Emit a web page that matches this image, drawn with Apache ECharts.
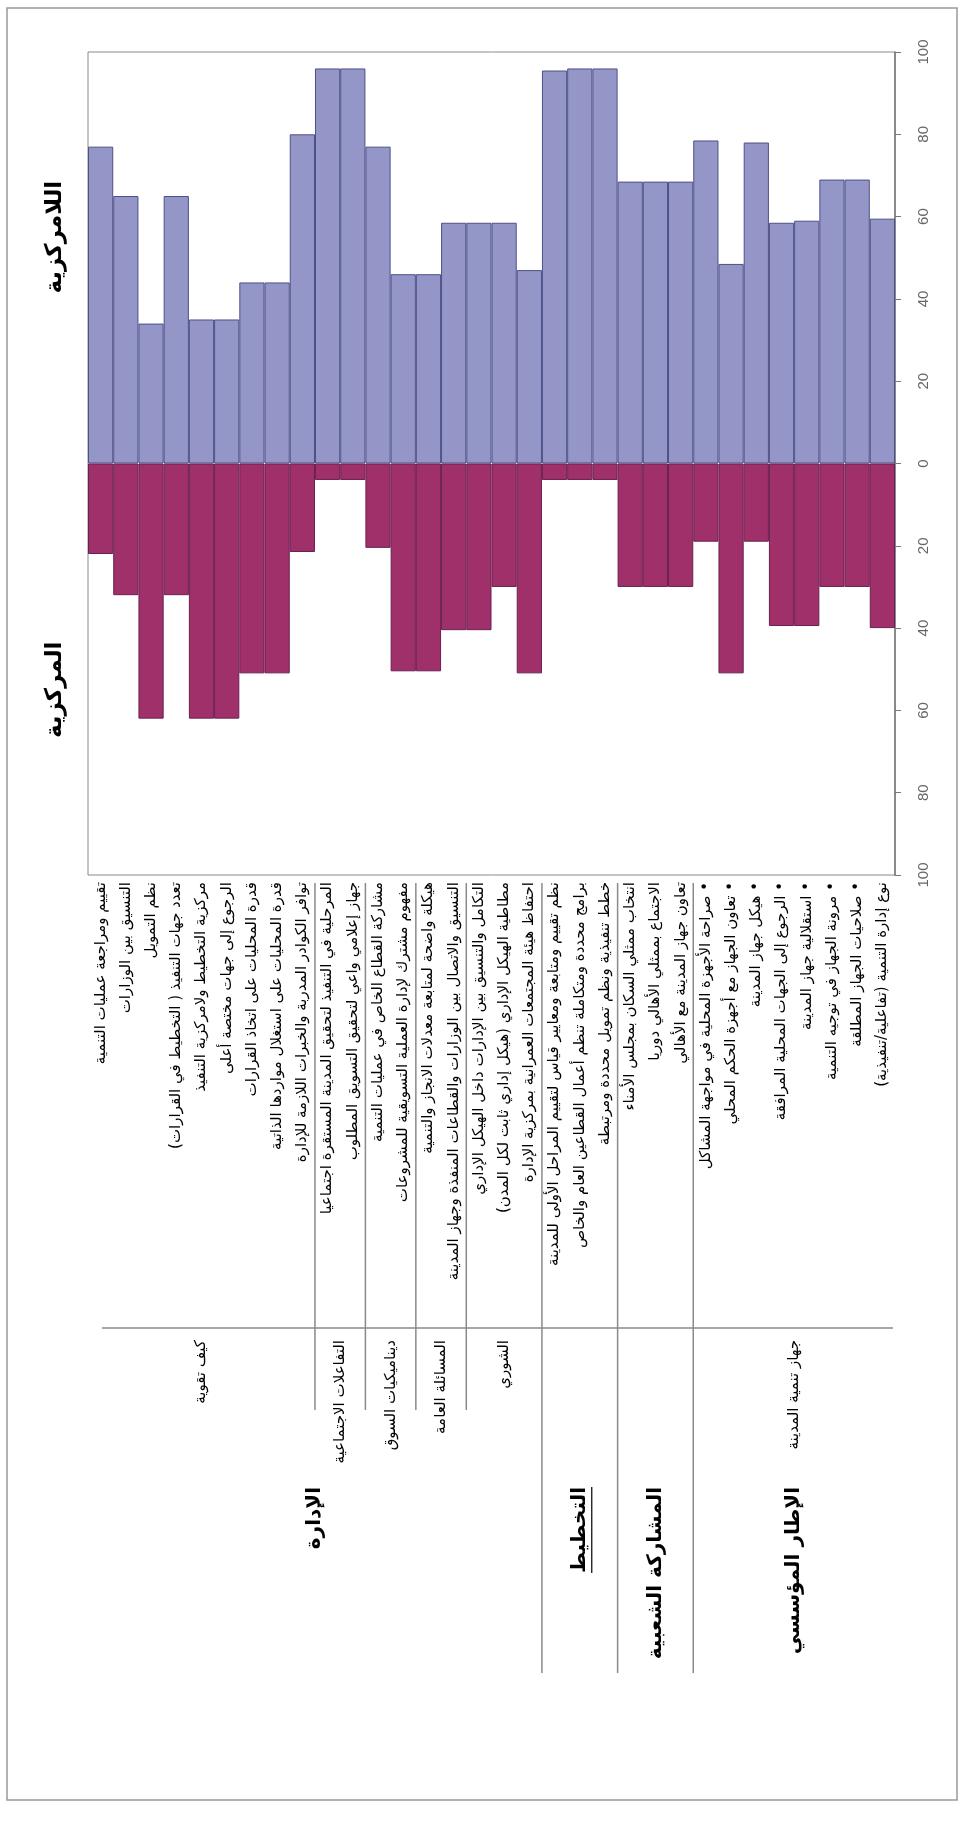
<!DOCTYPE html>
<html>
<head>
<meta charset="utf-8">
<script src="https://cdn.jsdelivr.net/npm/echarts@6/dist/echarts.min.js"></script>
<style>
  html, body { margin: 0; padding: 0; background: #fff; }
  #chart { width: 963px; height: 1834px; }
</style>
</head>
<body>
<div id="chart" dir="rtl"></div>
<script>
// البيانات
const categories = [
  'تقييم ومراجعة عمليات التنمية',
  'التنسيق بين الوزارات',
  'نظم التمويل',
  'تعدد جهات التنفيذ ( التخطيط في القرارات)',
  'مركزية التخطيط ولامركزية التنفيذ',
  'الرجوع إلى جهات مختصة أعلى',
  'قدرة المحليات على اتخاذ القرارات',
  'قدرة المحليات على استغلال مواردها الذاتية',
  'توافر الكوادر المدربة والخبرات اللازمة للإدارة',
  'المرحلية في التنفيذ لتحقيق المدينة المستقرة اجتماعيا',
  'جهاز إعلامي واعي لتحقيق التسويق المطلوب',
  'مشاركة القطاع الخاص في عمليات التنمية',
  'مفهوم مشترك لإدارة العملية التسويقية للمشروعات',
  'هيكلة واضحة لمتابعة معدلات الانجاز والتنمية',
  'التنسيق والاتصال بين الوزارات والقطاعات المنفذة وجهاز المدينة',
  'التكامل والتنسيق بين الإدارات داخل الهيكل الإداري',
  'مطاطية الهيكل الإداري (هيكل إداري ثابت لكل المدن)',
  'احتفاظ هيئة المجتمعات العمرانية بمركزية الإدارة',
  'نظم تقييم ومتابعة ومعايير قياس لتقييم المراحل الأولى للمدينة',
  'برامج محددة ومتكاملة تنظم أعمال القطاعين العام والخاص',
  'خطط تنفيذية ونظم تمويل محددة ومرتبطة',
  'انتخاب ممثلي السكان بمجلس الأمناء',
  'الاجتماع بممثلي الأهالي دوريا',
  'تعاون جهاز المدينة مع الأهالي',
  '• صراحة الأجهزة المحلية في مواجهة المشاكل',
  '• تعاون الجهاز مع أجهزة الحكم المحلي',
  '• هيكل جهاز المدينة',
  '• الرجوع إلى الجهات المحلية المرافقة',
  '• استقلالية جهاز المدينة',
  '• مرونة الجهاز في توجيه التنمية',
  '• صلاحيات الجهاز المطلقة',
  'نوع إدارة التنمية (تفاعلية/تنفيذية)'
];
// اللامركزية (فوق الصفر)
const decentral = [77, 65, 34, 65, 35, 35, 44, 44, 80, 96, 96, 77, 46, 46, 58.5, 58.5,
  58.5, 47, 95.5, 96, 96, 68.5, 68.5, 68.5, 78.5, 48.5, 78, 58.5, 59, 69, 69, 59.5];
// المركزية (تحت الصفر)
const central = [22, 32, 62, 32, 62, 62, 51, 51, 21.5, 4, 4, 20.5, 50.5, 50.5, 40.5, 40.5,
  30, 51, 4, 4, 4, 30, 30, 30, 19, 51, 19, 39.5, 39.5, 30, 30, 40];
const valueTicks = [-100, -80, -60, -40, -20, 0, 20, 40, 60, 80, 100];

const seriesNames = ['اللامركزية', 'المركزية'];
const subgroupNames = ['كيف تقوية', 'التفاعلات الاجتماعية', 'ديناميكيات السوق', 'المسائلة العامة', 'الشوري', '', '', 'جهاز تنمية المدينة'];
const subgroupStarts = [0, 9, 11, 13, 15, 18, 21, 24];
const groupNames = ['الإدارة', 'التخطيط', 'المشاركة الشعبية', 'الإطار المؤسسي'];
const groupStarts = [0, 18, 21, 24];

const FONT = '"DejaVu Sans", sans-serif';
const chart = echarts.init(document.getElementById('chart'));

const option = {
  animation: false,
  grid: {
    left: 88, right: 68, top: 52, bottom: 959,
    show: true, borderColor: '#8a8a8a', borderWidth: 1,
    outerBoundsMode: 'none'
  },
  xAxis: {
    type: 'category',
    data: categories,
    axisLine: { show: false },
    axisTick: { show: false },
    axisLabel: { interval: 0, rotate: 90, fontSize: 15, color: '#000', margin: 7, fontFamily: FONT }
  },
  yAxis: {
    type: 'value',
    position: 'right',
    min: valueTicks[0],
    max: valueTicks[valueTicks.length - 1],
    interval: 20,
    splitLine: { show: false },
    axisLine: { show: true, lineStyle: { color: '#777', width: 1.5 } },
    axisTick: { show: true, length: 6, lineStyle: { color: '#777' } },
    axisLabel: { rotate: 90, fontSize: 15, color: '#666', margin: 21, fontFamily: 'Liberation Sans', formatter: v => Math.abs(v) }
  },
  series: [
    {
      name: seriesNames[0], type: 'bar', data: decentral,
      barWidth: '100%', barGap: '-100%',
      itemStyle: { color: '#9496c8', borderColor: '#4d5088', borderWidth: 1 }
    },
    {
      name: seriesNames[1], type: 'bar', data: central.map(v => -v),
      barWidth: '100%', barGap: '-100%',
      itemStyle: { color: '#a0306a', borderColor: '#6a1f52', borderWidth: 1 }
    }
  ]
};
chart.setOption(option);

// خطوط التقسيم والعناوين (محسوبة من محاور الرسم)
const cx = i => chart.convertToPixel({ xAxisIndex: 0 }, i);
const vy = v => chart.convertToPixel({ yAxisIndex: 0 }, v);
const bw = cx(1) - cx(0);
const edge = k => cx(0) - bw / 2 + k * bw;
const LINE = { stroke: '#8a8a8a', lineWidth: 1.5 };

const measure = (text, font) => {
  const ctx = document.createElement('canvas').getContext('2d');
  ctx.font = font;
  return ctx.measureText(text).width;
};

const rotText = (x, y, text, size, bold, align) => ({
  type: 'text', x, y, rotation: Math.PI / 2,
  style: {
    text, fill: '#000', fontSize: size, fontWeight: bold ? 'bold' : 'normal',
    fontFamily: FONT, align: align || 'right', verticalAlign: 'middle'
  }
});

const graphics = [];
graphics.push({ type: 'rect', shape: { x: 7, y: 8, width: 950, height: 1792 }, style: { fill: 'none', stroke: '#999', lineWidth: 1.5 } });

// عناوين السلسلتين
graphics.push(rotText(55, vy(55), seriesNames[0], 23, true, 'center'));
graphics.push(rotText(55, vy(-55), seriesNames[1], 23, true, 'center'));

// خطوط المجموعات الفرعية
subgroupStarts.forEach(k => {
  if (k === 0 || groupStarts.includes(k)) return;
  graphics.push({ type: 'line', shape: { x1: edge(k), y1: 883, x2: edge(k), y2: 1410 }, style: LINE });
});
groupStarts.forEach(k => {
  if (k === 0) return;
  graphics.push({ type: 'line', shape: { x1: edge(k), y1: 883, x2: edge(k), y2: 1673 }, style: LINE });
});
graphics.push({ type: 'line', shape: { x1: 102, y1: 1328, x2: edge(categories.length) - 2, y2: 1328 }, style: LINE });

// أسماء المجموعات الفرعية
subgroupNames.forEach((name, i) => {
  if (!name) return;
  const a = subgroupStarts[i];
  const b = i + 1 < subgroupStarts.length ? subgroupStarts[i + 1] : categories.length;
  graphics.push(rotText((edge(a) + edge(b)) / 2, 1340, name, 15, false));
});

// أسماء المجموعات الرئيسية
groupNames.forEach((name, i) => {
  const a = groupStarts[i];
  const b = i + 1 < groupStarts.length ? groupStarts[i + 1] : categories.length;
  const x = (edge(a) + edge(b)) / 2;
  graphics.push(rotText(x, 1487, name, 20, true));
  if (name === 'التخطيط') {
    const w = measure(name, 'bold 20px ' + FONT);
    graphics.push({ type: 'line', shape: { x1: x + 12, y1: 1487, x2: x + 12, y2: 1487 + w }, style: { stroke: '#000', lineWidth: 1.2 } });
  }
});

chart.setOption({ graphic: graphics });
</script>
</body>
</html>
